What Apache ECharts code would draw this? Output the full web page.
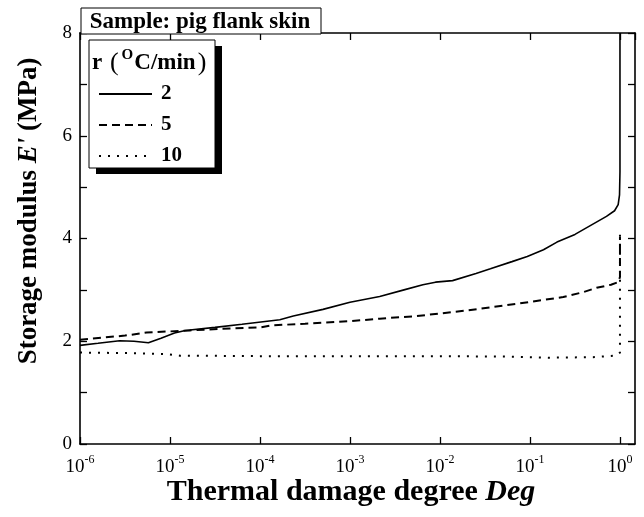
<!DOCTYPE html>
<html>
<head>
<meta charset="utf-8">
<script src="https://cdn.jsdelivr.net/npm/echarts@6/dist/echarts.min.js"></script>
<style>
  html, body { margin: 0; padding: 0; background: #fff; }
  #chart { width: 644px; height: 517px; }
</style>
</head>
<body>
<div id="chart"></div>
<script>
const FONT = '"Liberation Serif", "Times New Roman", Times, serif';

// Heating rates r (°C/min)
const rateNames = ['2', '5', '10'];

// log10(Deg) and storage modulus E' (MPa) for r = 2 °C/min
const lgDegR2 = [-6, -5.8, -5.56, -5.4, -5.24, -5.1, -4.95, -4.83, -4.5, -4.2, -3.78, -3.63, -3.3, -3.0, -2.67, -2.4, -2.19, -2.05, -1.86, -1.6, -1.44, -1.2, -1.03, -0.85, -0.7, -0.5, -0.33, -0.15, -0.06, -0.02, -0.005, 0, 0];
const modR2   = [1.92, 1.96, 2.01, 2.0, 1.97, 2.06, 2.16, 2.21, 2.27, 2.33, 2.42, 2.49, 2.62, 2.76, 2.87, 3.0, 3.1, 3.15, 3.18, 3.32, 3.41, 3.55, 3.65, 3.78, 3.93, 4.08, 4.25, 4.43, 4.54, 4.66, 4.85, 5.3, 8.0];

// r = 5 °C/min
const lgDegR5 = [-6, -5.5, -5.26, -4.78, -4.33, -4.0, -3.86, -3.5, -3.0, -2.67, -2.26, -1.7, -1.14, -0.63, -0.4, -0.26, -0.1, -0.02, 0, 0];
const modR5   = [2.03, 2.11, 2.17, 2.21, 2.25, 2.27, 2.31, 2.34, 2.39, 2.44, 2.49, 2.6, 2.73, 2.86, 2.96, 3.04, 3.1, 3.15, 3.25, 4.03];

// r = 10 °C/min
const lgDegR10 = [-6, -5.5, -5.03, -4.89, -4, -3, -2, -1.2, -0.78, -0.3, -0.05, 0, 0];
const modR10   = [1.78, 1.77, 1.75, 1.72, 1.71, 1.71, 1.71, 1.7, 1.68, 1.69, 1.72, 1.78, 4.19];

// Axis tick labels
const xTickPowers = [-6, -5, -4, -3, -2, -1, 0];
const yTickLabels = [0, 2, 4, 6, 8];

const pairs = (xs, ys) => xs.map((x, i) => [x, ys[i]]);

const chart = echarts.init(document.getElementById('chart'), null, { renderer: 'canvas' });

const axisLine = { show: true, onZero: false, lineStyle: { color: '#000', width: 1.6 } };
const tick = { show: true, inside: true, length: 7, lineStyle: { color: '#000', width: 1.3 } };

const xBase = { type: 'value', min: -6, max: 0.167, interval: 1, splitLine: { show: false } };
const yBase = { type: 'value', min: 0, max: 8, interval: 1, splitLine: { show: false } };

chart.setOption({
  animation: false,
  backgroundColor: '#fff',
  grid: { left: 80, right: 9, top: 33, bottom: 73, containLabel: false },
  xAxis: [
    Object.assign({}, xBase, {
      position: 'bottom',
      axisLine, axisTick: tick,
      axisLabel: {
        showMaxLabel: false,
        margin: 10,
        color: '#000',
        formatter: v => {
          const p = Math.round(v);
          if (Math.abs(v - p) > 1e-6 || !xTickPowers.includes(p)) return '';
          return '{b|10}{s|' + p + '}';
        },
        rich: {
          b: { fontFamily: FONT, fontSize: 19, color: '#000' },
          s: { fontFamily: FONT, fontSize: 12, color: '#000', padding: [0, 0, 14, 0] }
        }
      }
    }),
    Object.assign({}, xBase, {
      position: 'top',
      axisLine, axisTick: tick,
      axisLabel: { show: false }
    })
  ],
  yAxis: [
    Object.assign({}, yBase, {
      position: 'left',
      axisLine, axisTick: tick,
      axisLabel: {
        margin: 8,
        color: '#000',
        fontFamily: FONT,
        fontSize: 19,
        formatter: v => yTickLabels.includes(v) ? String(v) : ''
      }
    }),
    Object.assign({}, yBase, {
      position: 'right',
      axisLine, axisTick: tick,
      axisLabel: { show: false }
    })
  ],
  legend: {
    data: rateNames,
    orient: 'vertical',
    left: 98,
    top: 83,
    padding: 0,
    itemWidth: 53,
    itemHeight: 14,
    itemGap: 9,
    z: 10,
    selectedMode: false,
    itemStyle: { color: 'rgba(0,0,0,0)', borderColor: 'rgba(0,0,0,0)', borderWidth: 0, opacity: 0 },
    textStyle: { fontFamily: FONT, fontSize: 21, fontWeight: 'bold', color: '#000', lineHeight: 22, padding: [0, 0, 0, 4] }
  },
  series: [
    {
      name: rateNames[0], type: 'line', symbol: 'none', showSymbol: false,
      data: pairs(lgDegR2, modR2),
      lineStyle: { color: '#000', width: 1.6, type: 'solid' },
      itemStyle: { color: '#000' }
    },
    {
      name: rateNames[1], type: 'line', symbol: 'none', showSymbol: false,
      data: pairs(lgDegR5, modR5),
      lineStyle: { color: '#000', width: 2, type: [8, 5] },
      itemStyle: { color: '#000' }
    },
    {
      name: rateNames[2], type: 'line', symbol: 'none', showSymbol: false,
      data: pairs(lgDegR10, modR10),
      lineStyle: { color: '#000', width: 2, type: [2, 7] },
      itemStyle: { color: '#000' }
    }
  ],
  graphic: [
    // legend panel with hard drop shadow
    { type: 'rect', z: 5, shape: { x: 96, y: 46, width: 126, height: 128 }, style: { fill: '#000' } },
    { type: 'rect', z: 6, shape: { x: 89, y: 40, width: 126, height: 128 }, style: { fill: '#fff', stroke: '#000', lineWidth: 1 } },
    {
      type: 'text', z: 11, x: 92, y: 63,
      style: {
        text: '{t|r }{p|(}{o|O}{t|C/min}{p|)}',
        textVerticalAlign: 'middle',
        rich: {
          t: { fontFamily: FONT, fontSize: 23, fontWeight: 'bold', fill: '#000' },
          p: { fontFamily: FONT, fontSize: 26, fill: '#000', padding: [0, 2, 0, 2] },
          o: { fontFamily: FONT, fontSize: 15, fontWeight: 'bold', fill: '#000', padding: [0, 1, 15, 1] }
        }
      }
    },
    // sample tag
    { type: 'rect', z: 12, shape: { x: 81, y: 8, width: 240, height: 26 }, style: { fill: '#fff', stroke: '#000', lineWidth: 1 } },
    {
      type: 'text', z: 13, x: 200, y: 22,
      style: { text: 'Sample: pig flank skin', font: 'bold 23px ' + FONT, fill: '#000', textAlign: 'center', textVerticalAlign: 'middle' }
    },
    // axis titles
    {
      type: 'text', z: 13, x: 351, y: 492,
      style: {
        text: '{b|Thermal damage degree }{i|Deg}',
        textAlign: 'center', textVerticalAlign: 'middle',
        rich: {
          b: { fontFamily: FONT, fontSize: 30, fontWeight: 'bold', fill: '#000' },
          i: { fontFamily: FONT, fontSize: 30, fontWeight: 'bold', fontStyle: 'italic', fill: '#000' }
        }
      }
    },
    {
      type: 'text', z: 13, x: 29, y: 211, rotation: Math.PI / 2,
      style: {
        text: "{b|Storage modulus }{i|E'}{b| (MPa)}",
        textAlign: 'center', textVerticalAlign: 'middle',
        rich: {
          b: { fontFamily: FONT, fontSize: 27, fontWeight: 'bold', fill: '#000' },
          i: { fontFamily: FONT, fontSize: 27, fontWeight: 'bold', fontStyle: 'italic', fill: '#000' }
        }
      }
    }
  ]
});
</script>
</body>
</html>
